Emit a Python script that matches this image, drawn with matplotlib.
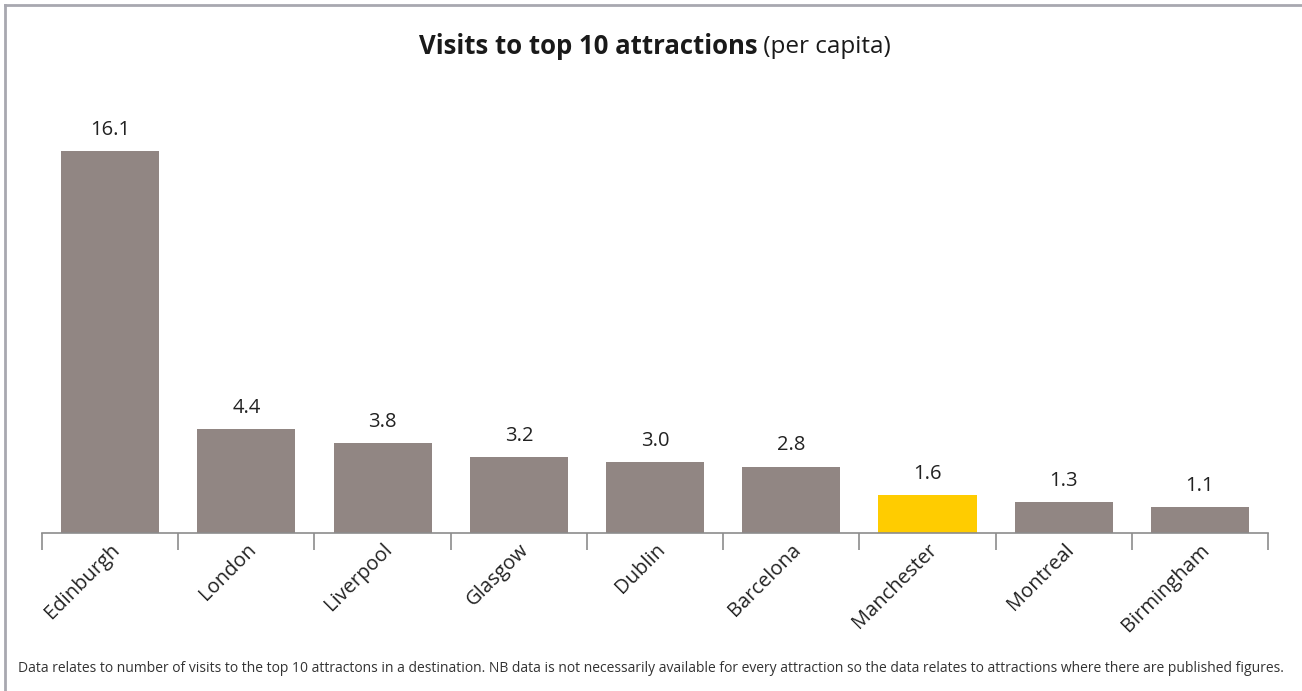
import numpy as np
import matplotlib.pyplot as plt
from matplotlib.lines import Line2D

# visits to the top 10 attractions, per head of population
cities = ["Edinburgh", "London", "Liverpool", "Glasgow", "Dublin",
          "Barcelona", "Manchester", "Montreal", "Birmingham"]
visits = [16.1, 4.4, 3.8, 3.2, 3.0, 2.8, 1.6, 1.3, 1.1]
highlight = "Manchester"

grey = "#918683"
yellow = "#ffcc00"
plt.rcParams['font.family'] = ['Open Sans', 'DejaVu Sans']

fig = plt.figure(figsize=(13.02, 6.91), dpi=100)
ax = fig.add_axes([0.0323, 0.2287, 0.9416, 0.5832])

x = np.arange(len(cities))
colors = [yellow if c == highlight else grey for c in cities]
ax.bar(x, visits, width=0.72, color=colors)

for i, v in zip(x, visits):
    ax.annotate(f"{v:.1f}", (i, v), xytext=(0, 8), textcoords="offset points",
                ha="center", va="bottom", fontsize=14.5, color="#222222")

ax.set_xlim(-0.5, len(cities) - 0.5)
ax.set_ylim(0, 17)
ax.set_yticks([])
for s in ["top", "right", "left"]:
    ax.spines[s].set_visible(False)
ax.spines["bottom"].set_color("#8c8c8c")
ax.spines["bottom"].set_linewidth(1.2)

# ticks sit between the categories
ax.set_xticks(np.arange(-0.5, len(cities)), minor=True)
ax.tick_params(axis="x", which="minor", length=12, width=1.2, color="#8c8c8c")
ax.set_xticks(x)
ax.set_xticklabels(cities, rotation=45, ha="right", va="top",
                   rotation_mode="anchor", fontsize=14.5, color="#222222")
ax.tick_params(axis="x", which="major", length=0, pad=5)

# title: bold part plus regular part, centred together
ty = 1 - 47 / 691
t1 = fig.text(0.5, ty, "Visits to top 10 attractions", fontsize=18.5,
              fontweight="bold", ha="left", va="center", color="#1a1a1a")
t2 = fig.text(0.5, ty, " (per capita)", fontsize=17.5, ha="left", va="center",
              color="#1a1a1a")
r = fig.canvas.get_renderer()
w1 = t1.get_window_extent(r).width / fig.bbox.width
w2 = t2.get_window_extent(r).width / fig.bbox.width
x0 = 0.503 - (w1 + w2) / 2
t1.set_x(x0)
t2.set_x(x0 + w1)

fig.text(0.5, 1 - 668 / 691,
         "Data relates to number of visits to the top 10 attractons in a destination. "
         "NB data is not necessarily available for every attraction so the data "
         "relates to attractions where there are published figures.",
         fontsize=10, ha="center", va="center", color="#333333")

# frame along the top and left edges
fig.add_artist(Line2D([5 / 1302, 5 / 1302], [0, 1 - 5 / 691], color="#a8a8b0",
                      lw=2, transform=fig.transFigure))
fig.add_artist(Line2D([5 / 1302, 1], [1 - 5 / 691, 1 - 5 / 691], color="#a8a8b0",
                      lw=2, transform=fig.transFigure))

fig.savefig("out.png", dpi=100)
